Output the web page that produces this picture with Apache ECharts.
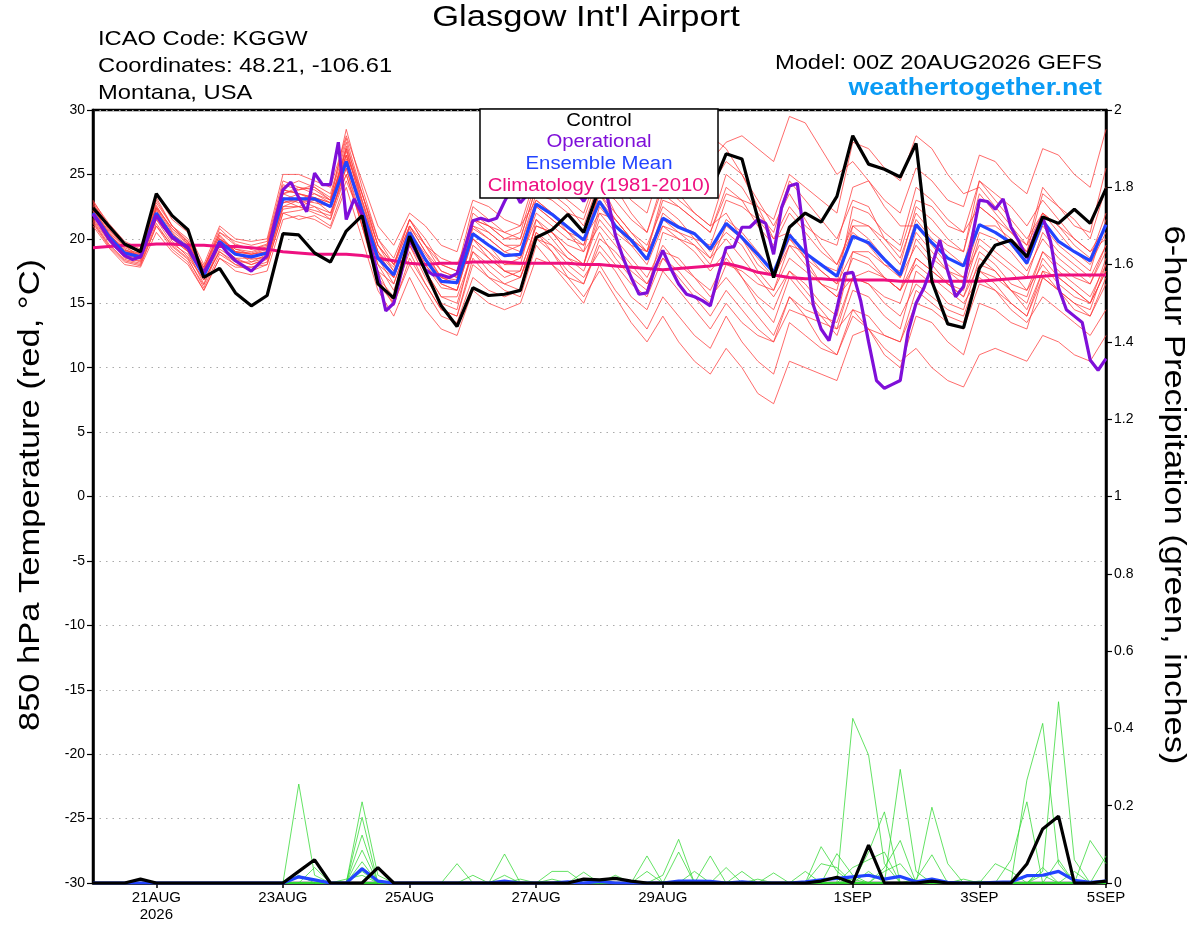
<!DOCTYPE html>
<html>
<head>
<meta charset="utf-8">
<title>Glasgow Int'l Airport</title>
<script src="https://cdn.jsdelivr.net/npm/echarts@6/dist/echarts.min.js"></script>
<style>
html,body{margin:0;padding:0;background:#fff;}
#chart{width:1200px;height:927px;}
</style>
</head>
<body>
<div id="chart"></div>
<script>
// x axis: hours after 00Z 20AUG2026
const tickHours = [24, 72, 120, 168, 216, 288, 336, 384];
const tickLabels = ['21AUG\n2026', '23AUG', '25AUG', '27AUG', '29AUG', '1SEP', '3SEP', '5SEP'];

// 850 hPa temperature, 6-hourly
const control = [
22.4,21.0,19.6,19.0, 23.5,21.8,20.7,17.0, 17.7,15.8,14.8,15.6, 20.4,20.3,18.9,18.2,
20.6,21.8,16.5,15.4, 20.2,17.5,14.8,13.2, 16.2,15.6,15.7,16.0, 20.1,20.7,21.9,20.5,
24.0,25.2,24.8,24.2, 25.3,24.6,24.0,23.6, 26.6,26.2,21.6,17.0, 20.9,22.0,21.3,23.3,
28.0,25.8,25.4,24.8, 27.4,16.7,13.4,13.1, 17.7,19.5,19.9,18.6, 21.7,21.2,22.3,21.2,
23.9];
const ensMean = [
22.0,20.2,18.9,18.6, 22.0,20.2,19.3,17.1, 19.8,18.8,18.6,18.9, 23.1,23.1,23.1,22.5,
26.0,22.2,18.5,17.2, 20.5,18.4,16.7,16.6, 20.4,19.5,18.7,18.8, 22.7,21.9,20.9,19.9,
22.9,21.0,19.9,18.4, 21.6,20.9,20.4,19.2, 21.2,20.1,18.8,17.4, 20.3,18.9,18.0,17.1,
20.2,19.7,18.4,17.2, 21.1,19.7,18.5,17.9, 21.1,20.5,19.7,18.1, 21.4,19.8,19.0,18.3,
21.1];
const climatology = [
19.3,19.4,19.5,19.5, 19.6,19.6,19.5,19.5, 19.4,19.4,19.3,19.2, 19.0,18.9,18.8,18.8,
18.8,18.7,18.5,18.3, 18.1,18.0,18.1,18.1, 18.2,18.2,18.2,18.1, 18.1,18.1,18.1,18.0,
18.0,17.9,17.8,17.7, 17.6,17.7,17.8,17.9, 18.1,17.8,17.4,17.2, 17.0,16.9,16.9,16.8,
16.8,16.8,16.8,16.7, 16.7,16.7,16.7,16.7, 16.7,16.8,16.9,17.0, 17.1,17.2,17.2,17.2,
17.2];
// operational run, 3-hourly
const operational = [
21.9,21.0,20.0,19.3,18.7,18.4,18.6,20.2,21.8,20.9,20.1,19.7,19.3,18.3,17.4,18.5,
19.7,18.9,18.3,17.9,17.5,18.1,18.7,21.4,23.8,24.4,23.2,22.1,25.1,24.2,24.2,27.5,
21.5,23.1,21.9,19.6,17.2,14.4,15.0,17.5,19.9,18.8,17.6,17.2,17.2,17.0,17.3,19.3,
21.4,21.6,21.4,21.6,22.9,24.0,22.8,23.5,24.5,25.0,24.0,23.5,24.5,23.8,22.9,24.0,
24.8,23.2,20.3,18.5,17.0,15.7,15.8,17.7,19.1,17.7,16.5,15.7,15.5,15.2,14.8,17.2,
19.3,19.4,20.9,20.9,21.5,21.2,18.8,22.4,24.1,24.3,19.5,14.9,13.0,12.1,14.6,17.3,
17.4,15.2,12.0,9.0,8.4,8.7,9.0,12.8,15.0,16.2,17.9,19.9,17.5,15.5,16.3,19.8,
23.0,22.9,22.3,23.1,20.9,19.8,18.5,20.3,21.7,19.8,16.2,14.5,14.0,13.5,10.6,9.8,
10.7];

// ensemble members, 6-hourly
const ens01 = [
22.5,20.8,19.3,18.8, 22.4,20.5,19.0,17.5, 20.3,19.0,18.2,18.5, 23.5,23.8,24.0,23.2,
27.5,23.0,19.0,17.8, 21.0,19.0,17.5,17.0, 21.5,21.0,20.0,20.5, 24.5,24.0,23.0,22.0,
25.5,24.0,22.0,20.5, 24.0,23.5,22.0,21.0, 25.0,24.0,22.0,20.5, 24.5,23.0,21.5,20.0,
23.0,22.5,20.0,18.5, 22.0,20.5,19.5,19.0, 23.5,22.0,20.5,19.5, 24.0,22.5,21.0,20.5,
25.5];
const ens02 = [
21.5,19.8,18.6,18.2, 21.5,19.6,18.8,16.8, 19.0,18.0,17.8,18.0, 22.0,22.2,22.5,22.0,
25.0,21.0,17.0,15.5, 19.0,16.5,14.5,14.0, 18.5,17.0,16.0,15.5, 19.5,18.0,16.5,15.0,
18.0,16.0,14.5,13.0, 15.5,14.0,12.5,11.5, 14.0,12.0,10.5,9.5, 13.5,12.5,11.5,11.0,
14.5,14.0,12.5,12.0, 16.0,15.0,14.0,13.5, 17.5,16.5,15.0,14.0, 17.0,16.0,14.5,14.0,
16.5];
const ens03 = [
23.0,21.0,19.5,18.5, 23.0,21.0,20.0,17.8, 20.5,19.5,19.2,19.5, 24.0,24.5,24.0,23.0,
28.5,24.0,20.0,18.0, 21.5,20.0,18.0,17.5, 22.5,21.5,20.5,20.0, 24.0,23.5,22.5,21.0,
24.5,22.0,20.5,19.0, 21.0,20.0,19.0,17.5, 19.0,17.0,15.0,13.5, 17.0,15.5,14.0,12.5,
16.0,15.5,14.0,13.0, 17.5,16.5,15.0,14.5, 18.5,17.5,16.0,14.5, 17.5,16.0,15.0,14.0,
17.0];
const ens04 = [
22.2,20.5,19.0,18.7, 22.0,20.0,19.5,17.0, 19.5,19.0,18.9,19.3, 23.5,23.0,23.5,22.8,
27.0,22.5,18.5,16.5, 20.0,18.5,17.0,16.5, 21.0,20.5,19.5,19.5, 23.5,23.0,22.0,21.5,
25.0,24.5,23.0,22.0, 26.0,25.5,27.0,26.0, 27.5,28.0,27.0,26.0, 29.5,29.0,27.0,25.0,
26.0,24.5,22.5,21.0, 21.0,19.5,18.0,17.0, 19.5,18.5,17.5,16.0, 19.0,17.5,16.5,15.5,
18.0];
const ens05 = [
21.8,20.0,18.5,18.3, 21.5,20.0,19.0,16.5, 19.5,18.5,18.0,18.5, 22.5,23.0,22.5,21.5,
26.0,22.0,18.0,16.0, 19.5,17.5,15.5,15.0, 19.0,18.0,17.0,17.5, 21.0,20.5,19.0,18.0,
21.5,20.0,18.5,17.0, 19.5,18.0,17.0,15.5, 17.0,15.5,14.0,12.5, 15.5,14.0,12.0,11.0,
14.0,13.0,11.0,10.0, 14.0,13.5,12.0,11.0, 15.0,14.5,13.5,13.0, 17.0,16.0,15.0,14.5,
18.0];
const ens06 = [
22.4,20.4,19.1,18.9, 22.5,20.8,19.8,17.6, 20.5,19.8,19.5,19.8, 24.5,24.0,23.5,23.0,
26.5,23.5,19.5,18.0, 21.0,19.5,18.0,17.5, 20.0,19.0,17.5,17.0, 20.5,19.0,17.5,16.5,
19.5,18.0,16.5,15.5, 18.5,17.5,16.0,15.0, 18.0,17.5,16.5,16.0, 19.5,19.0,18.0,17.5,
21.5,21.0,20.0,19.0, 23.0,22.5,21.0,20.5, 24.5,23.5,22.5,21.0, 23.0,21.5,20.0,19.0,
21.0];
const ens07 = [
21.3,19.5,18.3,18.0, 21.0,19.5,18.5,16.2, 18.8,18.0,17.5,18.0, 22.0,21.5,21.8,21.0,
24.5,21.5,17.5,15.0, 18.0,16.0,14.0,13.5, 17.0,16.0,15.5,16.0, 20.0,19.5,18.5,18.0,
22.0,21.5,20.0,19.0, 23.0,22.5,21.5,20.5, 24.0,23.0,21.0,19.5, 22.0,20.5,19.0,18.0,
21.0,20.0,18.5,17.0, 19.5,18.0,16.5,15.5, 18.0,17.5,16.0,15.0, 18.5,17.0,16.0,15.0,
17.5];
const ens08 = [
22.0,20.0,18.8,18.4, 22.0,20.0,19.0,17.0, 19.5,18.5,18.5,18.5, 23.0,22.5,23.0,22.5,
26.5,22.0,18.0,17.0, 20.5,18.0,16.5,16.0, 20.0,18.5,17.5,17.0, 20.0,19.0,17.0,15.5,
17.5,15.5,13.5,12.0, 14.0,12.0,10.5,9.5, 11.5,10.0,8.0,7.2, 10.5,10.0,9.5,9.0,
12.5,13.0,12.5,12.0, 15.0,14.5,13.5,13.0, 16.5,16.0,15.0,14.0, 17.5,17.0,16.0,15.0,
18.5];
const ens09 = [
22.7,21.0,19.6,19.0, 23.2,21.0,19.8,17.8, 20.2,19.0,18.8,19.0, 23.8,23.5,23.2,22.5,
27.0,23.0,19.5,18.0, 21.5,19.5,17.5,17.0, 22.0,21.0,20.5,21.0, 25.0,25.0,24.0,23.0,
26.5,25.5,24.5,23.5, 27.5,27.0,25.5,24.0, 26.0,25.0,23.0,21.0, 23.5,21.5,19.5,18.0,
20.5,19.5,18.0,17.5, 21.5,20.0,19.0,18.0, 22.5,21.5,20.5,19.0, 23.5,22.5,21.5,20.0,
24.0];
const ens10 = [
21.6,19.9,18.7,18.5, 21.8,19.8,18.6,16.8, 19.0,18.2,18.2,18.8, 22.8,23.2,23.0,22.0,
25.5,21.5,17.5,16.5, 20.0,17.5,15.5,15.5, 19.0,17.5,16.5,16.0, 21.5,20.0,18.5,17.5,
20.5,18.5,17.0,16.0, 20.5,20.0,19.5,18.0, 21.0,20.0,18.5,17.0, 19.5,18.0,16.5,15.5,
18.5,18.0,17.0,16.0, 20.0,18.5,17.5,16.5, 20.5,20.0,19.0,17.5, 20.0,18.5,17.5,16.5,
19.5];
const ens11 = [
22.1,20.3,19.0,18.8, 22.3,20.3,19.3,17.3, 20.0,19.2,19.0,19.4, 23.5,24.0,23.8,23.0,
26.8,22.8,19.0,17.5, 20.5,18.8,17.0,16.8, 20.8,20.0,19.0,19.5, 23.0,22.0,21.0,20.0,
22.0,20.5,19.5,18.0, 21.0,20.5,20.0,19.5, 23.0,22.5,21.5,20.0, 22.5,21.0,20.0,19.5,
24.0,24.5,23.0,22.0, 25.5,24.5,23.0,22.5, 26.5,26.0,24.5,23.5, 27.0,26.5,25.0,24.0,
28.5];
const ens12 = [
21.0,19.3,18.0,17.8, 20.5,19.0,18.0,16.0, 18.5,17.5,17.2,17.5, 21.5,21.8,21.5,20.8,
24.0,20.0,16.0,14.0, 17.0,14.5,13.0,12.5, 16.0,15.0,14.5,15.0, 18.5,18.0,17.0,16.5,
20.0,19.0,17.5,16.5, 18.5,17.0,15.5,14.0, 16.0,14.5,13.0,12.0, 14.5,14.0,13.5,13.0,
17.0,17.5,17.0,16.0, 18.0,17.0,16.0,15.0, 17.0,16.0,14.5,13.5, 15.5,14.5,13.5,12.5,
14.5];
const ens13 = [
22.9,21.2,19.8,19.2, 23.5,21.5,20.5,18.0, 21.0,20.0,19.8,20.0, 25.0,25.0,24.5,24.0,
28.0,24.5,21.0,19.5, 22.0,21.0,19.5,19.0, 23.0,22.5,21.5,21.0, 23.0,22.0,20.5,19.0,
21.0,19.5,18.0,16.5, 19.0,18.5,17.0,16.0, 18.5,17.0,15.5,14.5, 17.5,16.5,15.0,14.0,
19.0,19.0,18.0,17.0, 20.5,19.0,17.5,17.0, 21.0,21.0,20.0,19.0, 22.0,21.0,19.5,18.5,
22.0];
const ens14 = [
22.3,20.6,19.2,18.6, 22.6,20.6,19.6,17.4, 20.0,19.0,18.5,19.0, 23.2,22.8,23.2,22.8,
26.2,22.5,19.0,17.0, 21.0,19.0,17.0,16.5, 21.5,21.0,20.0,20.0, 24.0,23.5,23.5,23.0,
26.0,26.5,25.5,24.5, 28.5,29.0,30.0,28.0, 27.0,25.0,22.5,20.0, 20.5,18.5,16.5,15.5,
17.0,16.5,15.0,14.0, 16.5,15.5,14.5,14.0, 17.5,17.0,16.0,15.5, 19.0,18.0,17.0,16.5,
19.0];
const ens15 = [
21.9,20.1,18.9,18.5, 22.2,20.1,19.1,17.1, 19.8,18.8,18.4,18.6, 22.8,23.0,22.8,22.5,
25.8,22.0,18.5,17.0, 20.2,18.0,16.2,16.0, 20.5,19.5,18.0,18.5, 22.0,21.0,20.0,19.5,
23.0,21.5,20.0,18.5, 22.0,21.0,20.5,19.0, 20.5,19.5,17.5,16.0, 18.5,17.5,16.5,16.0,
21.0,21.0,19.5,18.0, 22.5,21.5,20.0,19.0, 24.5,23.0,21.5,20.0, 22.0,20.5,19.0,18.0,
20.5];
const ens16 = [
22.6,20.7,19.4,19.0, 22.8,21.0,19.7,17.5, 20.0,19.2,18.8,19.0, 23.0,23.5,23.2,22.8,
27.2,23.5,19.5,17.5, 20.5,18.5,16.5,16.0, 20.0,19.0,18.0,18.0, 22.5,21.5,20.5,20.0,
23.5,22.0,20.5,19.5, 22.5,21.5,20.0,18.5, 20.0,18.5,17.0,15.5, 17.5,16.0,14.5,13.0,
14.5,13.0,11.5,10.5, 11.5,10.0,9.0,8.5, 11.0,11.5,11.0,10.5, 12.5,12.0,11.0,10.5,
12.5];
const ens17 = [
21.4,19.6,18.4,18.1, 21.2,19.4,18.4,16.4, 19.2,18.4,18.0,18.4, 22.3,22.5,22.0,21.5,
25.0,21.0,16.5,15.0, 19.5,17.0,15.0,14.5, 19.5,18.5,17.5,17.5, 21.0,20.5,19.5,19.0,
24.0,23.0,21.5,20.5, 24.5,23.0,22.0,21.0, 22.0,20.0,18.0,17.0, 20.0,19.0,17.5,16.5,
22.5,22.0,20.5,19.5, 24.0,23.0,21.5,20.5, 22.5,21.5,19.5,18.0, 21.0,19.5,18.5,17.5,
21.5];
const ens18 = [
22.8,20.9,19.5,19.1, 22.4,20.8,19.6,17.7, 20.8,19.6,19.2,19.6, 24.2,23.8,24.2,23.5,
27.8,23.5,20.0,18.5, 21.5,19.5,18.5,18.0, 21.0,20.0,19.0,18.5, 21.5,20.5,19.0,18.0,
22.5,21.0,19.5,19.0, 23.5,22.5,21.5,20.5, 23.5,23.0,22.5,21.5, 25.0,24.0,23.0,22.0,
27.5,27.0,25.5,24.5, 28.0,27.0,25.0,23.5, 24.0,22.5,21.0,19.5, 22.0,21.0,20.0,19.0,
20.0];
const ens19 = [
21.2,19.4,18.2,17.9, 21.0,19.2,18.2,16.0, 18.5,17.8,17.8,18.2, 22.5,22.5,22.2,21.8,
25.5,21.0,17.0,14.8, 18.5,16.5,14.5,14.0, 18.0,17.0,16.5,17.0, 20.5,19.5,18.0,17.0,
19.0,17.5,15.5,14.5, 17.5,16.0,14.5,13.0, 15.0,13.5,12.5,12.0, 15.5,14.5,14.0,13.5,
17.0,16.5,15.5,15.0, 18.5,17.5,16.5,15.5, 19.0,18.0,16.5,16.0, 18.0,16.5,15.5,15.0,
17.5];
const ens20 = [
22.2,20.4,19.1,18.7, 22.0,20.4,19.5,17.2, 20.0,19.0,18.8,19.2, 23.8,23.5,23.0,22.5,
26.5,22.2,18.8,17.2, 20.8,18.5,16.8,16.5, 21.5,20.5,19.5,19.0, 22.5,21.5,20.5,19.5,
23.5,21.5,20.0,19.0, 21.5,20.5,19.5,18.5, 21.5,20.5,19.0,17.5, 20.0,18.5,17.5,16.5,
19.0,18.5,17.0,16.0, 18.5,17.5,16.5,16.0, 20.0,19.0,18.0,17.0, 20.5,19.0,18.0,17.0,
19.5];

// 6-hour precipitation (inches), 6-hourly
const pcpControl = [
0,0,0,0.01,0,0,0,0,0,0,0,0,0,0.03,0.06,0,
0,0,0.04,0,0,0,0,0,0,0,0,0,0,0,0,0.01,
0.008,0.012,0.005,0,0,0,0,0,0,0,0,0,0,0,0.005,0.015,
0,0.098,0,0,0,0.005,0,0,0,0,0,0.049,0.14,0.173,0,0,
0.005];
const pcpMean = [
0,0,0,0,0,0,0,0,0,0,0,0,0,0.016,0.008,0,
0,0.037,0.005,0,0,0,0,0,0,0,0.005,0,0,0,0.003,0,
0.004,0,0,0,0,0.005,0.005,0.004,0,0.003,0,0,0,0.003,0.008,0.012,
0.016,0.02,0.01,0.017,0.003,0.01,0.002,0,0,0.002,0.003,0.019,0.02,0.03,0.007,0.002,
0.005];
const pcp01 = [
0,0,0,0,0,0,0,0,0,0,0,0,0,0.256,0.02,0,
0,0,0,0,0,0,0,0,0,0,0,0,0,0,0,0,
0,0,0,0,0,0,0,0,0,0,0,0,0,0,0,0,
0.426,0.331,0.05,0,0,0,0,0,0,0,0,0,0,0,0,0,
0];
const pcp02 = [
0,0,0,0,0,0,0,0,0,0,0,0,0,0,0,0,
0,0.21,0.02,0,0,0,0,0,0,0,0,0,0,0,0,0,
0,0,0,0,0,0,0,0,0,0,0,0,0,0,0,0,
0,0,0,0,0,0,0,0,0,0,0,0.266,0.413,0.05,0,0,
0];
const pcp03 = [
0,0,0,0,0,0,0,0,0,0,0,0,0,0,0,0,
0,0.17,0,0,0,0,0,0,0,0,0,0,0,0,0,0,
0,0,0,0,0,0,0,0,0,0,0,0,0,0,0,0,
0,0,0,0,0,0,0,0,0,0,0,0,0.03,0.469,0.06,0,
0];
const pcp04 = [
0,0,0,0,0,0,0,0,0,0,0,0,0,0,0,0,
0,0.124,0,0,0,0,0,0,0,0,0.075,0,0,0,0,0,
0,0,0,0,0,0,0,0,0,0,0,0,0,0,0,0,
0,0,0,0.294,0.03,0,0,0,0,0,0,0,0,0,0,0,
0];
const pcp05 = [
0,0,0,0,0,0,0,0,0,0,0,0,0,0,0.04,0,
0,0.085,0,0,0,0,0,0,0,0,0,0,0,0,0,0,
0,0,0,0,0,0,0,0,0,0,0,0,0,0,0,0,
0,0.08,0.184,0,0,0,0,0,0,0,0,0,0,0,0,0,
0];
const pcp06 = [
0,0,0,0,0,0,0,0,0,0,0,0,0,0,0,0,
0,0.055,0,0,0,0,0,0.05,0,0,0,0,0,0,0,0,
0,0,0,0,0,0,0,0,0,0,0,0,0,0,0,0,
0,0,0,0,0,0.196,0.05,0,0,0,0,0,0,0,0,0,
0];
const pcp07 = [
0,0,0,0,0,0,0,0,0,0,0,0,0,0,0,0,
0,0.04,0,0,0,0,0,0,0,0,0,0,0,0,0,0,
0,0,0,0,0.02,0.113,0,0,0,0,0,0,0,0,0,0,
0,0,0,0,0,0,0,0,0,0,0.06,0.21,0,0,0,0,
0];
const pcp08 = [
0,0,0,0,0,0,0,0,0,0,0,0,0,0,0,0,
0,0.03,0,0,0,0,0,0,0,0,0,0,0,0,0,0,
0,0,0,0.07,0,0,0,0,0,0,0,0,0,0,0.094,0.03,
0,0,0,0,0,0,0,0,0,0,0,0,0,0,0,0,
0];
const pcp09 = [
0,0,0,0,0,0,0,0,0,0,0,0,0,0,0,0,
0.01,0.02,0,0,0,0,0,0,0,0,0,0,0,0,0,0,
0,0,0,0,0,0.08,0,0.07,0,0,0,0,0,0,0,0,
0,0,0,0,0,0,0,0,0,0,0,0,0,0,0,0.11,
0.05];
const pcp10 = [
0,0,0,0,0,0,0,0,0,0,0,0,0,0.02,0,0,
0,0,0,0,0,0,0,0,0,0,0,0,0,0.03,0.03,0,
0,0,0,0,0,0,0,0,0,0,0,0,0,0,0,0,
0,0,0.04,0.11,0,0,0,0,0,0,0,0,0,0,0,0,
0];
const pcp11 = [
0,0,0,0,0,0,0,0,0,0,0,0,0,0,0,0,
0,0,0,0,0,0,0,0,0.02,0,0.02,0,0,0,0,0,
0,0,0,0,0,0,0,0,0.04,0,0,0,0,0,0,0.076,
0.02,0,0,0,0,0,0,0,0,0,0,0,0,0,0,0,
0];
const pcp12 = [
0,0,0,0,0,0,0,0,0,0,0,0,0,0,0,0,
0,0,0,0,0,0,0,0,0,0,0,0,0,0,0,0.028,
0,0,0,0,0,0,0.03,0,0,0,0,0,0,0,0,0,
0,0,0,0,0.01,0.073,0,0,0,0,0,0,0,0,0,0,
0];
const pcp13 = [
0,0,0,0,0,0,0,0,0,0,0,0,0,0,0,0,
0,0,0,0,0,0,0,0,0,0,0,0,0,0,0,0,
0,0,0,0,0,0,0,0,0,0,0,0.026,0,0.03,0,0,
0,0.03,0,0,0,0,0,0,0,0.05,0.03,0,0,0,0,0,
0];
const pcp14 = [
0,0,0,0,0,0,0,0,0,0,0,0,0,0,0,0,
0,0,0,0,0,0,0,0,0,0,0,0,0,0,0,0,
0,0,0,0,0,0,0,0,0,0.03,0,0,0,0,0,0,
0.04,0.06,0.08,0,0,0,0,0,0,0,0,0,0,0.06,0,0,
0];
const pcp15 = [
0,0,0,0,0,0,0,0,0,0,0,0,0,0,0,0,
0,0,0,0,0,0,0,0,0,0,0,0,0,0,0,0,
0,0,0,0,0,0,0,0,0,0,0,0,0,0,0.05,0.04,
0,0,0,0,0,0,0,0,0,0,0,0,0.04,0,0.03,0,
0];
const pcp16 = [
0,0,0,0,0,0,0,0,0,0,0,0,0,0,0,0,
0,0,0,0,0,0,0,0,0,0,0,0,0,0,0,0,
0,0,0,0.03,0,0,0,0,0,0,0,0,0,0,0,0,
0,0,0,0,0,0,0,0.01,0,0,0,0,0,0,0,0,
0.07];
const pcp17 = [
0,0,0,0,0,0,0,0,0,0,0,0,0,0,0,0,
0,0,0,0,0,0,0,0,0,0,0,0,0,0.01,0,0,
0,0,0,0,0,0,0,0,0,0,0,0,0,0,0,0,
0,0,0.03,0.05,0,0,0,0,0,0,0,0,0,0,0,0,
0];
const pcp18 = [
0,0,0,0,0,0,0,0,0,0,0,0,0,0,0,0,
0,0,0,0,0,0,0,0,0,0,0,0,0,0,0,0,
0,0,0,0,0,0,0,0,0,0,0,0,0,0,0,0,
0.01,0,0,0,0,0,0,0,0,0,0,0,0.02,0,0,0,
0];
const pcp19 = [
0,0,0,0,0,0,0,0,0,0,0,0,0,0,0,0,
0,0,0,0,0,0,0,0,0,0,0,0,0,0,0,0,
0,0,0,0,0,0,0,0,0,0,0.01,0,0,0,0,0,
0,0,0,0,0,0,0,0,0.005,0,0,0,0,0,0,0,
0];
const pcp20 = [
0,0,0,0,0,0,0,0,0,0,0,0,0,0,0,0,
0,0,0,0,0,0,0,0,0,0,0,0.01,0,0,0,0,
0,0.02,0,0,0,0,0,0,0,0,0,0,0,0,0,0,
0,0,0,0,0,0,0,0,0,0,0,0,0,0,0,0,
0];

const tempMembers = [ens01, ens02, ens03, ens04, ens05, ens06, ens07, ens08, ens09, ens10,
                     ens11, ens12, ens13, ens14, ens15, ens16, ens17, ens18, ens19, ens20];
const pcpMembers = [pcp01, pcp02, pcp03, pcp04, pcp05, pcp06, pcp07, pcp08, pcp09, pcp10,
                    pcp11, pcp12, pcp13, pcp14, pcp15, pcp16, pcp17, pcp18, pcp19, pcp20];

const hours6 = control.map((v, i) => i * 6);
const hours3 = operational.map((v, i) => i * 3);

const FONT = '"Liberation Sans", Arial, Helvetica, sans-serif';

function toPairs(hours, vals) {
    return vals.map((v, i) => [hours[i], v]);
}

function lineSeries(hours, vals, axis, color, width, z) {
    return {
        type: 'line',
        yAxisIndex: axis,
        data: toPairs(hours, vals),
        symbol: 'none',
        silent: true,
        z: z,
        emphasis: { disabled: true },
        lineStyle: { color: color, width: width }
    };
}

// free text, widened a bit to match the wide plot font
function txt(x, y, text, size, color, align, opts) {
    opts = opts || {};
    return {
        type: 'text', x: x, y: y, z: 101,
        rotation: opts.rotation || 0,
        scaleX: opts.scaleX || 1.13,
        style: {
            text: text,
            font: (opts.bold ? 'bold ' : '') + size + 'px ' + FONT,
            fill: color,
            textAlign: align, textVerticalAlign: 'middle',
            align: align, verticalAlign: 'middle'
        }
    };
}

const series = [];
tempMembers.forEach(m => series.push(lineSeries(hours6, m, 0, '#ff3a3a', 0.75, 1)));
pcpMembers.forEach(m => series.push(lineSeries(hours6, m, 1, '#30d830', 0.75, 2)));
series.push(lineSeries(hours6, climatology, 0, '#ee1080', 3, 3));
series.push(lineSeries(hours6, ensMean, 0, '#2244ff', 3.2, 4));
series.push(lineSeries(hours3, operational, 0, '#7f0fd9', 3.2, 5));
series.push(lineSeries(hours6, control, 0, '#000000', 3.2, 6));
series.push(lineSeries(hours6, pcpMean, 1, '#2244ff', 3.2, 7));
series.push(lineSeries(hours6, pcpControl, 1, '#000000', 3.2, 8));

const chart = echarts.init(document.getElementById('chart'));
chart.setOption({
    animation: false,
    backgroundColor: '#fff',
    grid: {
        left: 93, right: 94, top: 110, bottom: 44,
        outerBoundsMode: 'none',
        show: true, borderColor: '#000', borderWidth: 2.5, backgroundColor: 'transparent'
    },
    xAxis: {
        type: 'value', min: 0, max: 384,
        axisLine: { show: true, onZero: false, lineStyle: { color: '#000', width: 2.5 } },
        axisTick: { show: true, customValues: tickHours, length: 5, lineStyle: { color: '#000', width: 1.5 } },
        axisLabel: {
            customValues: tickHours,
            formatter: v => tickLabels[tickHours.indexOf(v)] || '',
            color: '#000', fontSize: 15, lineHeight: 17, fontFamily: FONT, margin: 6
        },
        splitLine: { show: false }
    },
    yAxis: [{
        type: 'value', min: -30, max: 30, interval: 5, position: 'left',
        axisLine: { show: true, lineStyle: { color: '#000', width: 2.5 } },
        axisTick: { show: true, length: 6, lineStyle: { color: '#000', width: 1.2 } },
        axisLabel: { color: '#000', fontSize: 14, fontFamily: FONT, margin: 8 },
        splitLine: { show: true, lineStyle: { color: '#aaaaaa', width: 1.2, type: [1.5, 5] } }
    }, {
        type: 'value', min: 0, max: 2, interval: 0.2, position: 'right',
        axisLine: { show: true, lineStyle: { color: '#000', width: 2.5 } },
        axisTick: { show: true, length: 6, lineStyle: { color: '#000', width: 1.2 } },
        axisLabel: { color: '#000', fontSize: 14, fontFamily: FONT, margin: 8 },
        splitLine: { show: false }
    }],
    graphic: [
        txt(586, 18, "Glasgow Int'l Airport", 30, '#000', 'center', { scaleX: 1.15 }),
        txt(98, 39, 'ICAO Code: KGGW', 21, '#000', 'left'),
        txt(98, 66, 'Coordinates: 48.21, -106.61', 21, '#000', 'left'),
        txt(98, 93, 'Montana, USA', 21, '#000', 'left'),
        txt(1102, 63, 'Model: 00Z 20AUG2026 GEFS', 21, '#000', 'right'),
        txt(1102, 89, 'weathertogether.net', 23, '#0a9bf5', 'right', { bold: true, scaleX: 1.16 }),
        {
            type: 'rect', z: 100,
            shape: { x: 480, y: 109, width: 238, height: 89 },
            style: { fill: '#fff', stroke: '#000', lineWidth: 1.5 }
        },
        txt(599, 121, 'Control', 18, '#000', 'center'),
        txt(599, 142, 'Operational', 18, '#7f0fd9', 'center'),
        txt(599, 164, 'Ensemble Mean', 18, '#2244ff', 'center'),
        txt(599, 186, 'Climatology (1981-2010)', 18, '#ee1080', 'center'),
        txt(31, 495, '850 hPa Temperature (red, \u00B0C)', 30, '#000', 'center', { rotation: Math.PI / 2, scaleX: 1.15 }),
        txt(1173, 495, '6-hour Precipitation (green, inches)', 30, '#000', 'center', { rotation: -Math.PI / 2, scaleX: 1.15 })
    ],
    series: series
});
</script>
</body>
</html>
